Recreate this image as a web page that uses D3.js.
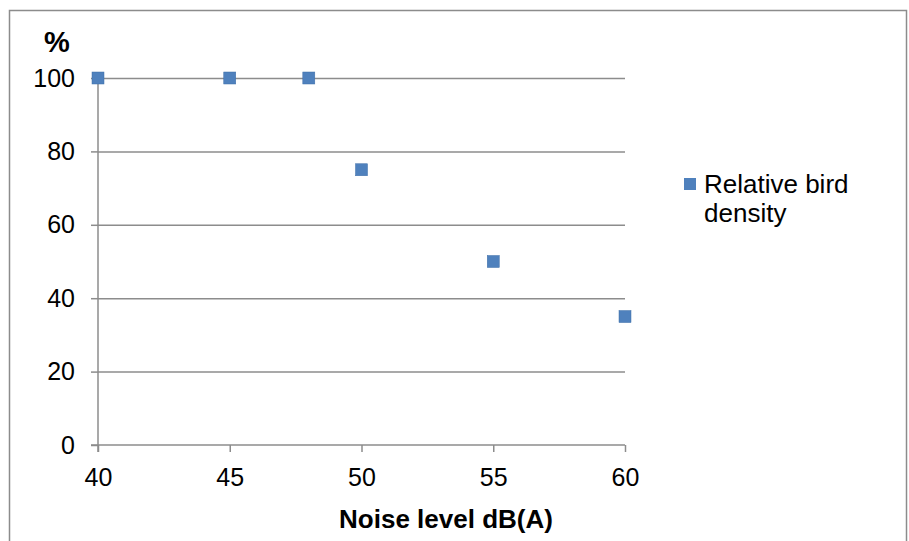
<!DOCTYPE html>
<html>
<head>
<meta charset="utf-8">
<script src="https://cdn.jsdelivr.net/npm/d3@7"></script>
<style>
  body { margin: 0; background: #fff; }
  svg { display: block; font-family: "Liberation Sans", Arial, sans-serif; }
</style>
</head>
<body>
<div class="chart"></div>
<script>
    // data
    const noiseLevels = [40, 45, 48, 50, 55, 60];
    const birdDensity = [100, 100, 100, 75, 50, 35];
    const xTicks = [40, 45, 50, 55, 60];
    const yTicks = [0, 20, 40, 60, 80, 100];
    const seriesName = ['Relative bird', 'density'];

    const W = 909, H = 541;
    const margin = { top: 78, left: 98, right: 284, bottom: 96 };
    const width = W - margin.left - margin.right;
    const height = H - margin.top - margin.bottom;

    const svg = d3.select('.chart').append('svg').attr('width', W).attr('height', H);

    svg.append('rect')
        .attr('x', 9.5).attr('y', 10.5)
        .attr('width', 897).attr('height', 540)
        .attr('fill', '#fff').attr('stroke', '#8c8c8c').attr('stroke-width', 1.5);

    const group = svg.append('g').attr('transform', 'translate(' + margin.left + ', ' + margin.top + ')');

    const x = d3.scaleLinear().domain([40, 60]).range([0, width]);
    const y = d3.scaleLinear().domain([0, 100]).range([height, 0]);

    // y axis + gridlines
    const yAxis = group.append('g')
        .call(d3.axisLeft(y).tickValues(yTicks).tickSize(7).tickPadding(16));
    yAxis.selectAll('.tick line').attr('stroke', '#8c8c8c').attr('stroke-width', 1.5);
    yAxis.selectAll('.tick text').attr('fill', '#000').style('font-size', '25px');
    yAxis.selectAll('.tick').filter(function (d) { return d > 0; })
        .append('line')
        .attr('x1', 0).attr('x2', width)
        .attr('stroke', '#8c8c8c').attr('stroke-width', 1.5);

    const xAxis = group.append('g')
        .attr('transform', 'translate(0, ' + height + ')')
        .call(d3.axisBottom(x).tickValues(xTicks).tickSize(7).tickPadding(16));
    xAxis.selectAll('.tick line').attr('stroke', '#8c8c8c').attr('stroke-width', 1.5);
    xAxis.selectAll('.tick text').attr('fill', '#000').style('font-size', '25px');

    // plain domain lines, no outer ticks
    xAxis.select('.domain').attr('d', 'M-7,0H' + width)
        .attr('stroke', '#8c8c8c').attr('stroke-width', 1.5);
    yAxis.select('.domain').attr('d', 'M0,' + (height + 7) + 'V0')
        .attr('stroke', '#8c8c8c').attr('stroke-width', 1.5);

    // markers
    const points = noiseLevels.map(function (d, i) { return { x: d, y: birdDensity[i] }; });
    group.selectAll('rect.pt').data(points)
        .enter().append('rect')
        .attr('class', 'pt')
        .attr('x', function (d) { return x(d.x) - 6; })
        .attr('y', function (d) { return y(d.y) - 6; })
        .attr('width', 12).attr('height', 12)
        .attr('fill', '#4f81bd')
        .attr('stroke', '#3f6fa8').attr('stroke-width', 0.5);

    // axis titles
    svg.append('text')
        .attr('x', 57).attr('y', 52)
        .attr('text-anchor', 'middle')
        .style('font-size', '29px').style('font-weight', 'bold')
        .text('%');

    svg.append('text')
        .attr('x', 446).attr('y', 528)
        .attr('text-anchor', 'middle')
        .style('font-size', '26px').style('font-weight', 'bold')
        .text('Noise level dB(A)');

    // legend
    const legend = svg.append('g').attr('transform', 'translate(684, 178)');
    legend.append('rect')
        .attr('width', 12).attr('height', 12)
        .attr('fill', '#4f81bd');
    legend.append('text')
        .selectAll('tspan').data(seriesName)
        .enter().append('tspan')
        .attr('x', 20)
        .attr('y', function (d, i) { return 15 + i * 29; })
        .style('font-size', '26px')
        .text(function (d) { return d; });
</script>
</body>
</html>
